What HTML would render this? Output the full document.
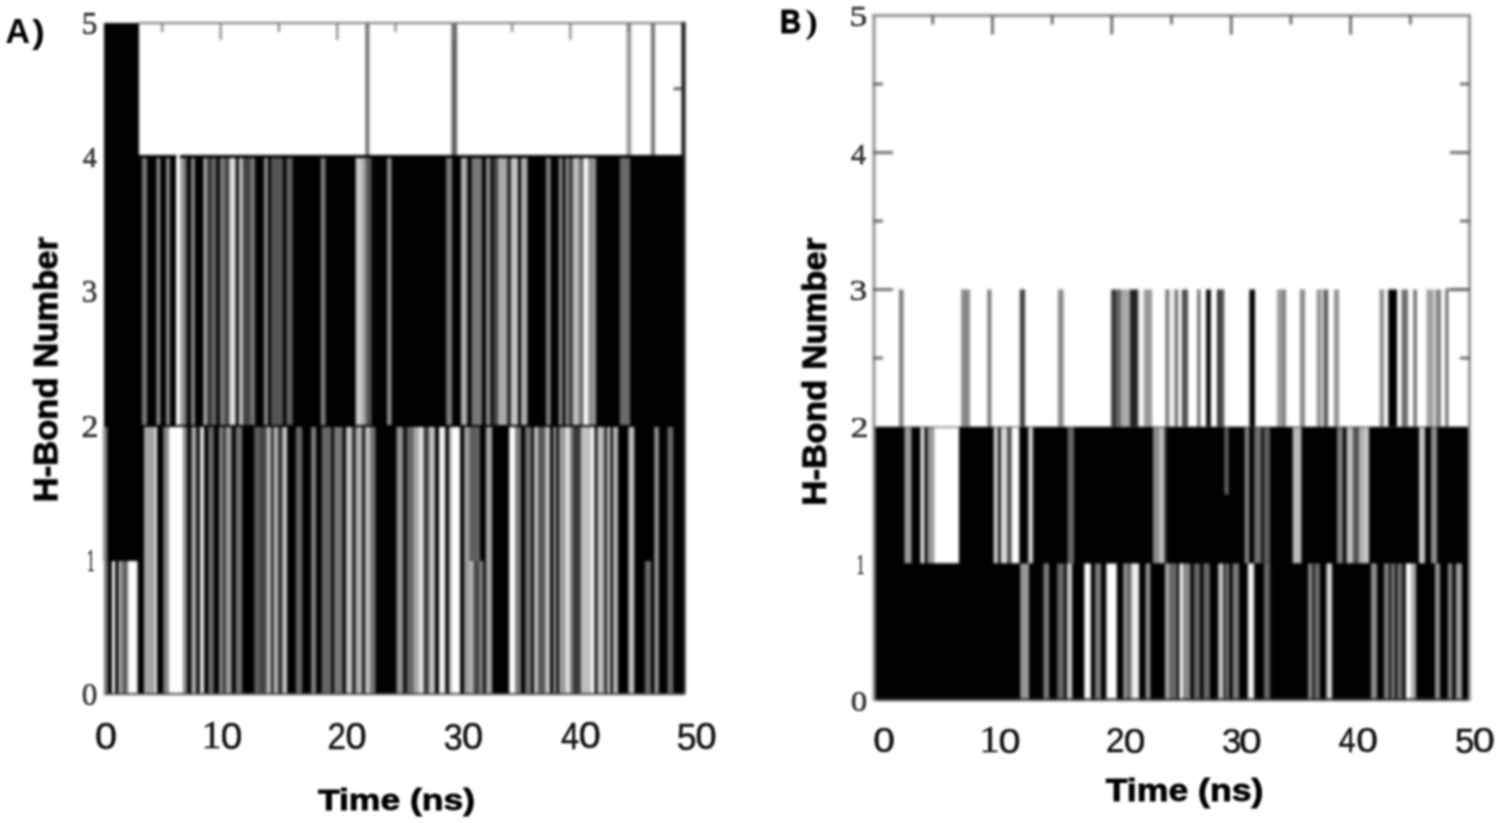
<!DOCTYPE html>
<html><head><meta charset="utf-8"><title>H-Bond Number</title>
<style>
html,body{margin:0;padding:0;background:#fff;}
body{width:1500px;height:823px;overflow:hidden;font-family:"Liberation Sans", sans-serif;}
svg{display:block;}
</style></head>
<body>
<svg width="1500" height="823" viewBox="0 0 1500 823">
<defs>
<filter id="bs" x="-2%" y="-2%" width="104%" height="104%" color-interpolation-filters="sRGB"><feGaussianBlur stdDeviation="1.40"/></filter>
<filter id="bt" x="-5%" y="-5%" width="110%" height="110%" color-interpolation-filters="sRGB"><feGaussianBlur stdDeviation="0.80"/></filter>
</defs>
<rect width="1500" height="823" fill="#fff"/>
<g filter="url(#bs)">
<rect x="104" y="23" width="35" height="538" fill="#000"/>
<rect x="139" y="155" width="546" height="539" fill="#000"/>
<rect x="104" y="561" width="35" height="133" fill="#000"/>
<rect x="104.00" y="158.0" width="38.00" height="267.0" fill="#000000"/>
<rect x="142.00" y="158.0" width="5.00" height="267.0" fill="#797979"/>
<rect x="147.00" y="158.0" width="9.50" height="267.0" fill="#000000"/>
<rect x="156.50" y="158.0" width="4.00" height="267.0" fill="#8e8e8e"/>
<rect x="160.50" y="158.0" width="5.50" height="267.0" fill="#000000"/>
<rect x="166.00" y="158.0" width="4.00" height="267.0" fill="#848484"/>
<rect x="170.00" y="158.0" width="6.00" height="267.0" fill="#000000"/>
<rect x="176.00" y="158.0" width="4.00" height="267.0" fill="#ffffff"/>
<rect x="180.00" y="158.0" width="4.00" height="267.0" fill="#9d9d9d"/>
<rect x="184.00" y="158.0" width="3.00" height="267.0" fill="#676767"/>
<rect x="187.00" y="158.0" width="4.00" height="267.0" fill="#000000"/>
<rect x="191.00" y="158.0" width="4.00" height="267.0" fill="#848484"/>
<rect x="195.00" y="158.0" width="8.50" height="267.0" fill="#000000"/>
<rect x="203.50" y="158.0" width="4.00" height="267.0" fill="#b2b2b2"/>
<rect x="207.50" y="158.0" width="0.50" height="267.0" fill="#000000"/>
<rect x="208.00" y="158.0" width="4.00" height="267.0" fill="#3a3a3a"/>
<rect x="212.00" y="158.0" width="4.60" height="267.0" fill="#676767"/>
<rect x="216.60" y="158.0" width="3.20" height="267.0" fill="#000000"/>
<rect x="219.80" y="158.0" width="5.60" height="267.0" fill="#7b7b7b"/>
<rect x="225.40" y="158.0" width="4.00" height="267.0" fill="#454545"/>
<rect x="229.40" y="158.0" width="6.40" height="267.0" fill="#e1e1e1"/>
<rect x="235.80" y="158.0" width="2.90" height="267.0" fill="#000000"/>
<rect x="238.70" y="158.0" width="4.30" height="267.0" fill="#bdbdbd"/>
<rect x="243.00" y="158.0" width="7.30" height="267.0" fill="#434343"/>
<rect x="250.30" y="158.0" width="4.70" height="267.0" fill="#787878"/>
<rect x="255.00" y="158.0" width="9.00" height="267.0" fill="#000000"/>
<rect x="264.00" y="158.0" width="4.00" height="267.0" fill="#8c8c8c"/>
<rect x="268.00" y="158.0" width="3.00" height="267.0" fill="#000000"/>
<rect x="271.00" y="158.0" width="12.00" height="267.0" fill="#555555"/>
<rect x="283.00" y="158.0" width="3.40" height="267.0" fill="#000000"/>
<rect x="286.40" y="158.0" width="6.40" height="267.0" fill="#626262"/>
<rect x="292.80" y="158.0" width="28.00" height="267.0" fill="#000000"/>
<rect x="320.80" y="158.0" width="4.90" height="267.0" fill="#818181"/>
<rect x="325.70" y="158.0" width="30.00" height="267.0" fill="#000000"/>
<rect x="355.70" y="158.0" width="6.30" height="267.0" fill="#cbcbcb"/>
<rect x="362.00" y="158.0" width="4.00" height="267.0" fill="#a3a3a3"/>
<rect x="366.00" y="158.0" width="5.70" height="267.0" fill="#555555"/>
<rect x="371.70" y="158.0" width="15.30" height="267.0" fill="#000000"/>
<rect x="387.00" y="158.0" width="4.70" height="267.0" fill="#8d8d8d"/>
<rect x="391.70" y="158.0" width="54.60" height="267.0" fill="#000000"/>
<rect x="446.30" y="158.0" width="5.90" height="267.0" fill="#7c7c7c"/>
<rect x="452.20" y="158.0" width="8.80" height="267.0" fill="#000000"/>
<rect x="461.00" y="158.0" width="6.50" height="267.0" fill="#aeaeae"/>
<rect x="467.50" y="158.0" width="4.00" height="267.0" fill="#000000"/>
<rect x="471.50" y="158.0" width="10.50" height="267.0" fill="#777777"/>
<rect x="482.00" y="158.0" width="4.00" height="267.0" fill="#000000"/>
<rect x="486.00" y="158.0" width="4.70" height="267.0" fill="#8d8d8d"/>
<rect x="490.70" y="158.0" width="2.30" height="267.0" fill="#000000"/>
<rect x="493.00" y="158.0" width="5.00" height="267.0" fill="#434343"/>
<rect x="498.00" y="158.0" width="9.50" height="267.0" fill="#aaaaaa"/>
<rect x="507.50" y="158.0" width="3.30" height="267.0" fill="#202020"/>
<rect x="510.80" y="158.0" width="7.20" height="267.0" fill="#c2c2c2"/>
<rect x="518.00" y="158.0" width="3.00" height="267.0" fill="#000000"/>
<rect x="521.00" y="158.0" width="6.60" height="267.0" fill="#adadad"/>
<rect x="527.60" y="158.0" width="18.40" height="267.0" fill="#000000"/>
<rect x="546.00" y="158.0" width="4.80" height="267.0" fill="#828282"/>
<rect x="550.80" y="158.0" width="8.10" height="267.0" fill="#000000"/>
<rect x="558.90" y="158.0" width="3.70" height="267.0" fill="#929292"/>
<rect x="562.60" y="158.0" width="2.60" height="267.0" fill="#000000"/>
<rect x="565.20" y="158.0" width="4.30" height="267.0" fill="#838383"/>
<rect x="569.50" y="158.0" width="3.50" height="267.0" fill="#414141"/>
<rect x="573.00" y="158.0" width="6.00" height="267.0" fill="#bebebe"/>
<rect x="579.00" y="158.0" width="4.40" height="267.0" fill="#696969"/>
<rect x="583.40" y="158.0" width="5.20" height="267.0" fill="#ffffff"/>
<rect x="588.60" y="158.0" width="7.80" height="267.0" fill="#909090"/>
<rect x="596.40" y="158.0" width="23.40" height="267.0" fill="#000000"/>
<rect x="619.80" y="158.0" width="10.40" height="267.0" fill="#6a6a6a"/>
<rect x="630.20" y="158.0" width="54.80" height="267.0" fill="#000000"/>
<rect x="176.5" y="154" width="3.5" height="5" fill="#fff"/>
<rect x="102.00" y="427.0" width="1.00" height="134.0" fill="#ffffff"/>
<rect x="103.00" y="427.0" width="4.50" height="134.0" fill="#898989"/>
<rect x="107.50" y="427.0" width="36.50" height="134.0" fill="#000000"/>
<rect x="144.00" y="427.0" width="10.50" height="134.0" fill="#a5a5a5"/>
<rect x="154.50" y="427.0" width="2.50" height="134.0" fill="#f9f9f9"/>
<rect x="157.00" y="427.0" width="6.40" height="134.0" fill="#000000"/>
<rect x="163.40" y="427.0" width="5.60" height="134.0" fill="#888888"/>
<rect x="169.00" y="427.0" width="14.40" height="134.0" fill="#ffffff"/>
<rect x="183.40" y="427.0" width="4.00" height="134.0" fill="#8a8a8a"/>
<rect x="187.40" y="427.0" width="4.00" height="134.0" fill="#000000"/>
<rect x="191.40" y="427.0" width="4.80" height="134.0" fill="#aeaeae"/>
<rect x="196.20" y="427.0" width="4.00" height="134.0" fill="#171717"/>
<rect x="200.20" y="427.0" width="4.00" height="134.0" fill="#efefef"/>
<rect x="204.20" y="427.0" width="4.10" height="134.0" fill="#000000"/>
<rect x="208.30" y="427.0" width="5.60" height="134.0" fill="#6b6b6b"/>
<rect x="213.90" y="427.0" width="5.10" height="134.0" fill="#000000"/>
<rect x="219.00" y="427.0" width="4.80" height="134.0" fill="#818181"/>
<rect x="223.80" y="427.0" width="1.60" height="134.0" fill="#090909"/>
<rect x="225.40" y="427.0" width="6.40" height="134.0" fill="#9c9c9c"/>
<rect x="231.80" y="427.0" width="4.00" height="134.0" fill="#000000"/>
<rect x="235.80" y="427.0" width="6.50" height="134.0" fill="#727272"/>
<rect x="242.30" y="427.0" width="12.00" height="134.0" fill="#000000"/>
<rect x="254.30" y="427.0" width="5.70" height="134.0" fill="#5c5c5c"/>
<rect x="260.00" y="427.0" width="6.30" height="134.0" fill="#424242"/>
<rect x="266.30" y="427.0" width="4.70" height="134.0" fill="#b7b7b7"/>
<rect x="271.00" y="427.0" width="2.50" height="134.0" fill="#1c1c1c"/>
<rect x="273.50" y="427.0" width="4.90" height="134.0" fill="#b6b6b6"/>
<rect x="278.40" y="427.0" width="4.00" height="134.0" fill="#2e2e2e"/>
<rect x="282.40" y="427.0" width="4.80" height="134.0" fill="#cbcbcb"/>
<rect x="287.20" y="427.0" width="8.80" height="134.0" fill="#000000"/>
<rect x="296.00" y="427.0" width="6.40" height="134.0" fill="#686868"/>
<rect x="302.40" y="427.0" width="8.80" height="134.0" fill="#000000"/>
<rect x="311.20" y="427.0" width="4.80" height="134.0" fill="#828282"/>
<rect x="316.00" y="427.0" width="5.70" height="134.0" fill="#000000"/>
<rect x="321.70" y="427.0" width="9.90" height="134.0" fill="#666666"/>
<rect x="331.60" y="427.0" width="2.40" height="134.0" fill="#000000"/>
<rect x="334.00" y="427.0" width="8.80" height="134.0" fill="#777777"/>
<rect x="342.80" y="427.0" width="3.20" height="134.0" fill="#000000"/>
<rect x="346.00" y="427.0" width="6.50" height="134.0" fill="#c4c4c4"/>
<rect x="352.50" y="427.0" width="3.20" height="134.0" fill="#1b1b1b"/>
<rect x="355.70" y="427.0" width="6.30" height="134.0" fill="#b4b4b4"/>
<rect x="362.00" y="427.0" width="3.30" height="134.0" fill="#1e1e1e"/>
<rect x="365.30" y="427.0" width="4.70" height="134.0" fill="#c7c7c7"/>
<rect x="370.00" y="427.0" width="5.70" height="134.0" fill="#717171"/>
<rect x="375.70" y="427.0" width="20.90" height="134.0" fill="#000000"/>
<rect x="396.60" y="427.0" width="6.40" height="134.0" fill="#939393"/>
<rect x="403.00" y="427.0" width="4.00" height="134.0" fill="#121212"/>
<rect x="407.00" y="427.0" width="6.40" height="134.0" fill="#666666"/>
<rect x="413.40" y="427.0" width="5.60" height="134.0" fill="#aaaaaa"/>
<rect x="419.00" y="427.0" width="4.80" height="134.0" fill="#e7e7e7"/>
<rect x="423.80" y="427.0" width="4.80" height="134.0" fill="#363636"/>
<rect x="428.60" y="427.0" width="6.40" height="134.0" fill="#bfbfbf"/>
<rect x="435.00" y="427.0" width="4.00" height="134.0" fill="#000000"/>
<rect x="439.00" y="427.0" width="6.50" height="134.0" fill="#f3f3f3"/>
<rect x="445.50" y="427.0" width="3.50" height="134.0" fill="#000000"/>
<rect x="449.00" y="427.0" width="2.40" height="134.0" fill="#c5c5c5"/>
<rect x="451.40" y="427.0" width="8.80" height="134.0" fill="#ffffff"/>
<rect x="460.20" y="427.0" width="4.00" height="134.0" fill="#000000"/>
<rect x="464.20" y="427.0" width="4.80" height="134.0" fill="#a2a2a2"/>
<rect x="469.00" y="427.0" width="2.50" height="134.0" fill="#717171"/>
<rect x="471.50" y="427.0" width="8.80" height="134.0" fill="#606060"/>
<rect x="480.30" y="427.0" width="5.60" height="134.0" fill="#000000"/>
<rect x="485.90" y="427.0" width="6.40" height="134.0" fill="#a4a4a4"/>
<rect x="492.30" y="427.0" width="16.90" height="134.0" fill="#000000"/>
<rect x="509.20" y="427.0" width="6.40" height="134.0" fill="#ffffff"/>
<rect x="515.60" y="427.0" width="5.60" height="134.0" fill="#777777"/>
<rect x="521.20" y="427.0" width="4.00" height="134.0" fill="#000000"/>
<rect x="525.20" y="427.0" width="6.40" height="134.0" fill="#737373"/>
<rect x="531.60" y="427.0" width="2.40" height="134.0" fill="#000000"/>
<rect x="534.00" y="427.0" width="4.00" height="134.0" fill="#c1c1c1"/>
<rect x="538.00" y="427.0" width="7.20" height="134.0" fill="#595959"/>
<rect x="545.20" y="427.0" width="4.80" height="134.0" fill="#c8c8c8"/>
<rect x="550.00" y="427.0" width="3.30" height="134.0" fill="#000000"/>
<rect x="553.30" y="427.0" width="3.20" height="134.0" fill="#9f9f9f"/>
<rect x="556.50" y="427.0" width="2.40" height="134.0" fill="#000000"/>
<rect x="558.90" y="427.0" width="6.30" height="134.0" fill="#9a9a9a"/>
<rect x="565.20" y="427.0" width="5.20" height="134.0" fill="#e2e2e2"/>
<rect x="570.40" y="427.0" width="2.60" height="134.0" fill="#858585"/>
<rect x="573.00" y="427.0" width="7.80" height="134.0" fill="#393939"/>
<rect x="580.80" y="427.0" width="9.50" height="134.0" fill="#c0c0c0"/>
<rect x="590.30" y="427.0" width="4.40" height="134.0" fill="#ffffff"/>
<rect x="594.70" y="427.0" width="2.60" height="134.0" fill="#000000"/>
<rect x="597.30" y="427.0" width="6.90" height="134.0" fill="#bdbdbd"/>
<rect x="604.20" y="427.0" width="3.50" height="134.0" fill="#313131"/>
<rect x="607.70" y="427.0" width="2.60" height="134.0" fill="#f8f8f8"/>
<rect x="610.30" y="427.0" width="2.60" height="134.0" fill="#000000"/>
<rect x="612.90" y="427.0" width="5.10" height="134.0" fill="#b6b6b6"/>
<rect x="618.00" y="427.0" width="10.50" height="134.0" fill="#000000"/>
<rect x="628.50" y="427.0" width="6.00" height="134.0" fill="#c1c1c1"/>
<rect x="634.50" y="427.0" width="16.50" height="134.0" fill="#000000"/>
<rect x="651.00" y="427.0" width="3.50" height="134.0" fill="#010101"/>
<rect x="654.50" y="427.0" width="4.30" height="134.0" fill="#9b9b9b"/>
<rect x="658.80" y="427.0" width="8.70" height="134.0" fill="#000000"/>
<rect x="667.50" y="427.0" width="6.00" height="134.0" fill="#696969"/>
<rect x="673.50" y="427.0" width="11.50" height="134.0" fill="#000000"/>
<rect x="103.00" y="561.0" width="1.00" height="133.0" fill="#ffffff"/>
<rect x="104.00" y="561.0" width="4.00" height="133.0" fill="#757575"/>
<rect x="108.00" y="561.0" width="4.00" height="133.0" fill="#000000"/>
<rect x="112.00" y="561.0" width="3.20" height="133.0" fill="#ffffff"/>
<rect x="115.20" y="561.0" width="3.20" height="133.0" fill="#000000"/>
<rect x="118.40" y="561.0" width="4.10" height="133.0" fill="#aaaaaa"/>
<rect x="122.50" y="561.0" width="5.50" height="133.0" fill="#646464"/>
<rect x="128.00" y="561.0" width="9.70" height="133.0" fill="#ffffff"/>
<rect x="137.70" y="561.0" width="6.30" height="133.0" fill="#000000"/>
<rect x="144.00" y="561.0" width="10.50" height="133.0" fill="#a5a5a5"/>
<rect x="154.50" y="561.0" width="2.50" height="133.0" fill="#f9f9f9"/>
<rect x="157.00" y="561.0" width="6.40" height="133.0" fill="#000000"/>
<rect x="163.40" y="561.0" width="5.60" height="133.0" fill="#888888"/>
<rect x="169.00" y="561.0" width="14.40" height="133.0" fill="#ffffff"/>
<rect x="183.40" y="561.0" width="4.00" height="133.0" fill="#8a8a8a"/>
<rect x="187.40" y="561.0" width="4.00" height="133.0" fill="#000000"/>
<rect x="191.40" y="561.0" width="4.80" height="133.0" fill="#aeaeae"/>
<rect x="196.20" y="561.0" width="4.00" height="133.0" fill="#171717"/>
<rect x="200.20" y="561.0" width="4.00" height="133.0" fill="#efefef"/>
<rect x="204.20" y="561.0" width="4.10" height="133.0" fill="#000000"/>
<rect x="208.30" y="561.0" width="5.60" height="133.0" fill="#6b6b6b"/>
<rect x="213.90" y="561.0" width="5.10" height="133.0" fill="#000000"/>
<rect x="219.00" y="561.0" width="4.80" height="133.0" fill="#818181"/>
<rect x="223.80" y="561.0" width="1.60" height="133.0" fill="#090909"/>
<rect x="225.40" y="561.0" width="6.40" height="133.0" fill="#9c9c9c"/>
<rect x="231.80" y="561.0" width="4.00" height="133.0" fill="#000000"/>
<rect x="235.80" y="561.0" width="6.50" height="133.0" fill="#727272"/>
<rect x="242.30" y="561.0" width="12.00" height="133.0" fill="#000000"/>
<rect x="254.30" y="561.0" width="5.70" height="133.0" fill="#5c5c5c"/>
<rect x="260.00" y="561.0" width="6.30" height="133.0" fill="#424242"/>
<rect x="266.30" y="561.0" width="4.70" height="133.0" fill="#b7b7b7"/>
<rect x="271.00" y="561.0" width="2.50" height="133.0" fill="#1c1c1c"/>
<rect x="273.50" y="561.0" width="4.90" height="133.0" fill="#b6b6b6"/>
<rect x="278.40" y="561.0" width="4.00" height="133.0" fill="#2e2e2e"/>
<rect x="282.40" y="561.0" width="4.80" height="133.0" fill="#cbcbcb"/>
<rect x="287.20" y="561.0" width="8.80" height="133.0" fill="#000000"/>
<rect x="296.00" y="561.0" width="6.40" height="133.0" fill="#686868"/>
<rect x="302.40" y="561.0" width="8.80" height="133.0" fill="#000000"/>
<rect x="311.20" y="561.0" width="4.80" height="133.0" fill="#828282"/>
<rect x="316.00" y="561.0" width="5.70" height="133.0" fill="#000000"/>
<rect x="321.70" y="561.0" width="9.90" height="133.0" fill="#666666"/>
<rect x="331.60" y="561.0" width="2.40" height="133.0" fill="#000000"/>
<rect x="334.00" y="561.0" width="8.80" height="133.0" fill="#777777"/>
<rect x="342.80" y="561.0" width="3.20" height="133.0" fill="#000000"/>
<rect x="346.00" y="561.0" width="6.50" height="133.0" fill="#c4c4c4"/>
<rect x="352.50" y="561.0" width="3.20" height="133.0" fill="#1b1b1b"/>
<rect x="355.70" y="561.0" width="6.30" height="133.0" fill="#b4b4b4"/>
<rect x="362.00" y="561.0" width="3.30" height="133.0" fill="#1e1e1e"/>
<rect x="365.30" y="561.0" width="4.70" height="133.0" fill="#c7c7c7"/>
<rect x="370.00" y="561.0" width="5.70" height="133.0" fill="#717171"/>
<rect x="375.70" y="561.0" width="20.90" height="133.0" fill="#000000"/>
<rect x="396.60" y="561.0" width="6.40" height="133.0" fill="#939393"/>
<rect x="403.00" y="561.0" width="4.00" height="133.0" fill="#121212"/>
<rect x="407.00" y="561.0" width="6.40" height="133.0" fill="#666666"/>
<rect x="413.40" y="561.0" width="5.60" height="133.0" fill="#aaaaaa"/>
<rect x="419.00" y="561.0" width="4.80" height="133.0" fill="#e7e7e7"/>
<rect x="423.80" y="561.0" width="4.80" height="133.0" fill="#363636"/>
<rect x="428.60" y="561.0" width="6.40" height="133.0" fill="#bfbfbf"/>
<rect x="435.00" y="561.0" width="4.00" height="133.0" fill="#000000"/>
<rect x="439.00" y="561.0" width="6.50" height="133.0" fill="#f3f3f3"/>
<rect x="445.50" y="561.0" width="3.50" height="133.0" fill="#000000"/>
<rect x="449.00" y="561.0" width="2.40" height="133.0" fill="#c5c5c5"/>
<rect x="451.40" y="561.0" width="8.80" height="133.0" fill="#ffffff"/>
<rect x="460.20" y="561.0" width="4.00" height="133.0" fill="#000000"/>
<rect x="464.20" y="561.0" width="3.30" height="133.0" fill="#a1a1a1"/>
<rect x="467.50" y="561.0" width="6.40" height="133.0" fill="#b1b1b1"/>
<rect x="473.90" y="561.0" width="4.80" height="133.0" fill="#434343"/>
<rect x="478.70" y="561.0" width="4.80" height="133.0" fill="#7f7f7f"/>
<rect x="483.50" y="561.0" width="2.40" height="133.0" fill="#000000"/>
<rect x="485.90" y="561.0" width="6.40" height="133.0" fill="#a4a4a4"/>
<rect x="492.30" y="561.0" width="16.90" height="133.0" fill="#000000"/>
<rect x="509.20" y="561.0" width="6.40" height="133.0" fill="#ffffff"/>
<rect x="515.60" y="561.0" width="5.60" height="133.0" fill="#777777"/>
<rect x="521.20" y="561.0" width="4.00" height="133.0" fill="#000000"/>
<rect x="525.20" y="561.0" width="6.40" height="133.0" fill="#737373"/>
<rect x="531.60" y="561.0" width="2.40" height="133.0" fill="#000000"/>
<rect x="534.00" y="561.0" width="4.00" height="133.0" fill="#c1c1c1"/>
<rect x="538.00" y="561.0" width="7.20" height="133.0" fill="#595959"/>
<rect x="545.20" y="561.0" width="4.80" height="133.0" fill="#c8c8c8"/>
<rect x="550.00" y="561.0" width="3.30" height="133.0" fill="#000000"/>
<rect x="553.30" y="561.0" width="3.20" height="133.0" fill="#9f9f9f"/>
<rect x="556.50" y="561.0" width="2.40" height="133.0" fill="#000000"/>
<rect x="558.90" y="561.0" width="6.30" height="133.0" fill="#9a9a9a"/>
<rect x="565.20" y="561.0" width="5.20" height="133.0" fill="#e2e2e2"/>
<rect x="570.40" y="561.0" width="2.60" height="133.0" fill="#858585"/>
<rect x="573.00" y="561.0" width="7.80" height="133.0" fill="#393939"/>
<rect x="580.80" y="561.0" width="9.50" height="133.0" fill="#c0c0c0"/>
<rect x="590.30" y="561.0" width="4.40" height="133.0" fill="#ffffff"/>
<rect x="594.70" y="561.0" width="2.60" height="133.0" fill="#000000"/>
<rect x="597.30" y="561.0" width="6.90" height="133.0" fill="#bdbdbd"/>
<rect x="604.20" y="561.0" width="3.50" height="133.0" fill="#313131"/>
<rect x="607.70" y="561.0" width="2.60" height="133.0" fill="#f8f8f8"/>
<rect x="610.30" y="561.0" width="2.60" height="133.0" fill="#000000"/>
<rect x="612.90" y="561.0" width="5.10" height="133.0" fill="#b6b6b6"/>
<rect x="618.00" y="561.0" width="10.50" height="133.0" fill="#000000"/>
<rect x="628.50" y="561.0" width="6.00" height="133.0" fill="#c1c1c1"/>
<rect x="634.50" y="561.0" width="10.50" height="133.0" fill="#000000"/>
<rect x="645.00" y="561.0" width="6.00" height="133.0" fill="#696969"/>
<rect x="651.00" y="561.0" width="3.50" height="133.0" fill="#000000"/>
<rect x="654.50" y="561.0" width="4.30" height="133.0" fill="#9b9b9b"/>
<rect x="658.80" y="561.0" width="8.70" height="133.0" fill="#000000"/>
<rect x="667.50" y="561.0" width="6.00" height="133.0" fill="#696969"/>
<rect x="673.50" y="561.0" width="11.50" height="133.0" fill="#000000"/>
<rect x="139.00" y="23.0" width="226.50" height="132.0" fill="#ffffff"/>
<rect x="365.50" y="23.0" width="4.00" height="132.0" fill="#696969"/>
<rect x="369.50" y="23.0" width="82.00" height="132.0" fill="#ffffff"/>
<rect x="451.50" y="23.0" width="5.50" height="132.0" fill="#5e5e5e"/>
<rect x="457.00" y="23.0" width="169.50" height="132.0" fill="#ffffff"/>
<rect x="626.50" y="23.0" width="5.00" height="132.0" fill="#989898"/>
<rect x="631.50" y="23.0" width="19.50" height="132.0" fill="#ffffff"/>
<rect x="651.00" y="23.0" width="4.00" height="132.0" fill="#727272"/>
<rect x="655.00" y="23.0" width="26.00" height="132.0" fill="#ffffff"/>
<rect x="139" y="22" width="546" height="2" fill="#777"/>
<rect x="681.5" y="22" width="4" height="672" fill="#111"/>
<rect x="104" y="693" width="581" height="2" fill="#444"/>
<rect x="161.3" y="23" width="2" height="9" fill="#777"/>
<rect x="219.6" y="23" width="2" height="17" fill="#777"/>
<rect x="277.9" y="23" width="2" height="9" fill="#777"/>
<rect x="336.2" y="23" width="2" height="17" fill="#777"/>
<rect x="394.5" y="23" width="2" height="9" fill="#777"/>
<rect x="452.8" y="23" width="2" height="17" fill="#777"/>
<rect x="511.1" y="23" width="2" height="9" fill="#777"/>
<rect x="569.4" y="23" width="2" height="17" fill="#777"/>
<rect x="627.7" y="23" width="2" height="9" fill="#777"/>
<rect x="673.5" y="87.5" width="8" height="2.5" fill="#444"/>
<rect x="873" y="426.5" width="597" height="274.0" fill="#000"/>
<rect x="876.00" y="289.5" width="23.00" height="137.0" fill="#ffffff"/>
<rect x="899.00" y="289.5" width="4.70" height="137.0" fill="#7c7c7c"/>
<rect x="903.70" y="289.5" width="57.50" height="137.0" fill="#ffffff"/>
<rect x="961.20" y="289.5" width="8.90" height="137.0" fill="#888888"/>
<rect x="970.10" y="289.5" width="17.30" height="137.0" fill="#ffffff"/>
<rect x="987.40" y="289.5" width="4.20" height="137.0" fill="#767676"/>
<rect x="991.60" y="289.5" width="28.20" height="137.0" fill="#ffffff"/>
<rect x="1019.80" y="289.5" width="5.50" height="137.0" fill="#414141"/>
<rect x="1025.30" y="289.5" width="32.60" height="137.0" fill="#ffffff"/>
<rect x="1057.90" y="289.5" width="5.90" height="137.0" fill="#8c8c8c"/>
<rect x="1063.80" y="289.5" width="47.40" height="137.0" fill="#ffffff"/>
<rect x="1111.20" y="289.5" width="4.80" height="137.0" fill="#353535"/>
<rect x="1116.00" y="289.5" width="5.50" height="137.0" fill="#656565"/>
<rect x="1121.50" y="289.5" width="8.50" height="137.0" fill="#aaaaaa"/>
<rect x="1130.00" y="289.5" width="8.40" height="137.0" fill="#222222"/>
<rect x="1138.40" y="289.5" width="5.60" height="137.0" fill="#f5f5f5"/>
<rect x="1144.00" y="289.5" width="8.40" height="137.0" fill="#999999"/>
<rect x="1152.40" y="289.5" width="13.10" height="137.0" fill="#ffffff"/>
<rect x="1165.50" y="289.5" width="3.70" height="137.0" fill="#6f6f6f"/>
<rect x="1169.20" y="289.5" width="5.60" height="137.0" fill="#eeeeee"/>
<rect x="1174.80" y="289.5" width="3.50" height="137.0" fill="#6a6a6a"/>
<rect x="1178.30" y="289.5" width="3.50" height="137.0" fill="#ffffff"/>
<rect x="1181.80" y="289.5" width="6.20" height="137.0" fill="#505050"/>
<rect x="1188.00" y="289.5" width="9.30" height="137.0" fill="#ffffff"/>
<rect x="1197.30" y="289.5" width="3.30" height="137.0" fill="#636363"/>
<rect x="1200.60" y="289.5" width="5.60" height="137.0" fill="#ffffff"/>
<rect x="1206.20" y="289.5" width="4.70" height="137.0" fill="#000000"/>
<rect x="1210.90" y="289.5" width="6.10" height="137.0" fill="#ffffff"/>
<rect x="1217.00" y="289.5" width="3.50" height="137.0" fill="#2a2a2a"/>
<rect x="1220.50" y="289.5" width="3.90" height="137.0" fill="#494949"/>
<rect x="1224.40" y="289.5" width="25.00" height="137.0" fill="#ffffff"/>
<rect x="1249.40" y="289.5" width="5.60" height="137.0" fill="#000000"/>
<rect x="1255.00" y="289.5" width="22.00" height="137.0" fill="#ffffff"/>
<rect x="1277.00" y="289.5" width="4.60" height="137.0" fill="#9c9c9c"/>
<rect x="1281.60" y="289.5" width="4.70" height="137.0" fill="#818181"/>
<rect x="1286.30" y="289.5" width="13.60" height="137.0" fill="#ffffff"/>
<rect x="1299.90" y="289.5" width="5.10" height="137.0" fill="#888888"/>
<rect x="1305.00" y="289.5" width="11.70" height="137.0" fill="#ffffff"/>
<rect x="1316.70" y="289.5" width="4.70" height="137.0" fill="#919191"/>
<rect x="1321.40" y="289.5" width="2.30" height="137.0" fill="#cfcfcf"/>
<rect x="1323.70" y="289.5" width="4.70" height="137.0" fill="#595959"/>
<rect x="1328.40" y="289.5" width="5.60" height="137.0" fill="#ffffff"/>
<rect x="1334.00" y="289.5" width="5.20" height="137.0" fill="#929292"/>
<rect x="1339.20" y="289.5" width="40.30" height="137.0" fill="#ffffff"/>
<rect x="1379.50" y="289.5" width="4.80" height="137.0" fill="#8f8f8f"/>
<rect x="1384.30" y="289.5" width="4.00" height="137.0" fill="#ffffff"/>
<rect x="1388.30" y="289.5" width="8.80" height="137.0" fill="#000000"/>
<rect x="1397.10" y="289.5" width="4.40" height="137.0" fill="#ffffff"/>
<rect x="1401.50" y="289.5" width="6.60" height="137.0" fill="#6d6d6d"/>
<rect x="1408.10" y="289.5" width="5.20" height="137.0" fill="#ffffff"/>
<rect x="1413.30" y="289.5" width="3.60" height="137.0" fill="#6b6b6b"/>
<rect x="1416.90" y="289.5" width="9.60" height="137.0" fill="#ffffff"/>
<rect x="1426.50" y="289.5" width="6.50" height="137.0" fill="#9e9e9e"/>
<rect x="1433.00" y="289.5" width="3.00" height="137.0" fill="#d3d3d3"/>
<rect x="1436.00" y="289.5" width="5.10" height="137.0" fill="#818181"/>
<rect x="1441.10" y="289.5" width="4.40" height="137.0" fill="#ffffff"/>
<rect x="1445.50" y="289.5" width="2.90" height="137.0" fill="#555555"/>
<rect x="1448.40" y="289.5" width="19.60" height="137.0" fill="#ffffff"/>
<rect x="873.00" y="427.5" width="31.50" height="136.0" fill="#000000"/>
<rect x="904.50" y="427.5" width="7.20" height="136.0" fill="#9b9b9b"/>
<rect x="911.70" y="427.5" width="8.80" height="136.0" fill="#000000"/>
<rect x="920.50" y="427.5" width="4.00" height="136.0" fill="#efefef"/>
<rect x="924.50" y="427.5" width="3.20" height="136.0" fill="#191919"/>
<rect x="927.70" y="427.5" width="6.50" height="136.0" fill="#999999"/>
<rect x="934.20" y="427.5" width="24.80" height="136.0" fill="#ffffff"/>
<rect x="959.00" y="427.5" width="34.80" height="136.0" fill="#000000"/>
<rect x="993.80" y="427.5" width="4.00" height="136.0" fill="#d9d9d9"/>
<rect x="997.80" y="427.5" width="3.20" height="136.0" fill="#282828"/>
<rect x="1001.00" y="427.5" width="6.50" height="136.0" fill="#dbdbdb"/>
<rect x="1007.50" y="427.5" width="4.00" height="136.0" fill="#4e4e4e"/>
<rect x="1011.50" y="427.5" width="8.00" height="136.0" fill="#ffffff"/>
<rect x="1019.50" y="427.5" width="8.80" height="136.0" fill="#000000"/>
<rect x="1028.30" y="427.5" width="4.80" height="136.0" fill="#d2d2d2"/>
<rect x="1033.10" y="427.5" width="34.50" height="136.0" fill="#000000"/>
<rect x="1067.60" y="427.5" width="6.40" height="136.0" fill="#686868"/>
<rect x="1074.00" y="427.5" width="79.00" height="136.0" fill="#000000"/>
<rect x="1153.00" y="427.5" width="5.50" height="136.0" fill="#8a8a8a"/>
<rect x="1158.50" y="427.5" width="5.50" height="136.0" fill="#bfbfbf"/>
<rect x="1164.00" y="427.5" width="2.60" height="136.0" fill="#4f4f4f"/>
<rect x="1166.60" y="427.5" width="78.10" height="136.0" fill="#000000"/>
<rect x="1244.70" y="427.5" width="4.80" height="136.0" fill="#828282"/>
<rect x="1249.50" y="427.5" width="4.80" height="136.0" fill="#000000"/>
<rect x="1254.30" y="427.5" width="7.20" height="136.0" fill="#717171"/>
<rect x="1261.50" y="427.5" width="2.50" height="136.0" fill="#141414"/>
<rect x="1264.00" y="427.5" width="6.30" height="136.0" fill="#5c5c5c"/>
<rect x="1270.30" y="427.5" width="22.50" height="136.0" fill="#000000"/>
<rect x="1292.80" y="427.5" width="8.80" height="136.0" fill="#bbbbbb"/>
<rect x="1301.60" y="427.5" width="35.40" height="136.0" fill="#000000"/>
<rect x="1337.00" y="427.5" width="6.00" height="136.0" fill="#7b7b7b"/>
<rect x="1343.00" y="427.5" width="3.50" height="136.0" fill="#000000"/>
<rect x="1346.50" y="427.5" width="6.50" height="136.0" fill="#bebebe"/>
<rect x="1353.00" y="427.5" width="6.00" height="136.0" fill="#525252"/>
<rect x="1359.00" y="427.5" width="5.00" height="136.0" fill="#b3b3b3"/>
<rect x="1364.00" y="427.5" width="5.00" height="136.0" fill="#c8c8c8"/>
<rect x="1369.00" y="427.5" width="50.00" height="136.0" fill="#000000"/>
<rect x="1419.00" y="427.5" width="6.00" height="136.0" fill="#c6c6c6"/>
<rect x="1425.00" y="427.5" width="6.00" height="136.0" fill="#000000"/>
<rect x="1431.00" y="427.5" width="6.00" height="136.0" fill="#8d8d8d"/>
<rect x="1437.00" y="427.5" width="31.00" height="136.0" fill="#000000"/>
<rect x="873.00" y="563.5" width="147.30" height="137.0" fill="#000000"/>
<rect x="1020.30" y="563.5" width="8.80" height="137.0" fill="#999999"/>
<rect x="1029.10" y="563.5" width="14.40" height="137.0" fill="#000000"/>
<rect x="1043.50" y="563.5" width="5.70" height="137.0" fill="#7c7c7c"/>
<rect x="1049.20" y="563.5" width="8.00" height="137.0" fill="#000000"/>
<rect x="1057.20" y="563.5" width="7.20" height="137.0" fill="#676767"/>
<rect x="1064.40" y="563.5" width="2.40" height="137.0" fill="#000000"/>
<rect x="1066.80" y="563.5" width="5.60" height="137.0" fill="#c9c9c9"/>
<rect x="1072.40" y="563.5" width="12.00" height="137.0" fill="#000000"/>
<rect x="1084.40" y="563.5" width="6.50" height="137.0" fill="#ffffff"/>
<rect x="1090.90" y="563.5" width="4.00" height="137.0" fill="#000000"/>
<rect x="1094.90" y="563.5" width="6.40" height="137.0" fill="#7a7a7a"/>
<rect x="1101.30" y="563.5" width="5.10" height="137.0" fill="#000000"/>
<rect x="1106.40" y="563.5" width="10.40" height="137.0" fill="#ffffff"/>
<rect x="1116.80" y="563.5" width="6.50" height="137.0" fill="#000000"/>
<rect x="1123.30" y="563.5" width="4.00" height="137.0" fill="#979797"/>
<rect x="1127.30" y="563.5" width="4.00" height="137.0" fill="#696969"/>
<rect x="1131.30" y="563.5" width="8.00" height="137.0" fill="#efefef"/>
<rect x="1139.30" y="563.5" width="6.40" height="137.0" fill="#000000"/>
<rect x="1145.70" y="563.5" width="4.80" height="137.0" fill="#959595"/>
<rect x="1150.50" y="563.5" width="14.50" height="137.0" fill="#000000"/>
<rect x="1165.00" y="563.5" width="4.80" height="137.0" fill="#a3a3a3"/>
<rect x="1169.80" y="563.5" width="7.20" height="137.0" fill="#666666"/>
<rect x="1177.00" y="563.5" width="2.40" height="137.0" fill="#000000"/>
<rect x="1179.40" y="563.5" width="4.00" height="137.0" fill="#f9f9f9"/>
<rect x="1183.40" y="563.5" width="7.20" height="137.0" fill="#888888"/>
<rect x="1190.60" y="563.5" width="3.20" height="137.0" fill="#000000"/>
<rect x="1193.80" y="563.5" width="6.40" height="137.0" fill="#686868"/>
<rect x="1200.20" y="563.5" width="3.20" height="137.0" fill="#000000"/>
<rect x="1203.40" y="563.5" width="6.50" height="137.0" fill="#686868"/>
<rect x="1209.90" y="563.5" width="8.30" height="137.0" fill="#000000"/>
<rect x="1218.20" y="563.5" width="5.60" height="137.0" fill="#c4c4c4"/>
<rect x="1223.80" y="563.5" width="1.60" height="137.0" fill="#000000"/>
<rect x="1225.40" y="563.5" width="4.00" height="137.0" fill="#777777"/>
<rect x="1229.40" y="563.5" width="3.20" height="137.0" fill="#000000"/>
<rect x="1232.60" y="563.5" width="6.40" height="137.0" fill="#7a7a7a"/>
<rect x="1239.00" y="563.5" width="8.90" height="137.0" fill="#000000"/>
<rect x="1247.90" y="563.5" width="6.40" height="137.0" fill="#f5f5f5"/>
<rect x="1254.30" y="563.5" width="9.70" height="137.0" fill="#000000"/>
<rect x="1264.00" y="563.5" width="6.30" height="137.0" fill="#696969"/>
<rect x="1270.30" y="563.5" width="37.70" height="137.0" fill="#000000"/>
<rect x="1308.00" y="563.5" width="4.80" height="137.0" fill="#828282"/>
<rect x="1312.80" y="563.5" width="1.60" height="137.0" fill="#000000"/>
<rect x="1314.40" y="563.5" width="5.60" height="137.0" fill="#6b6b6b"/>
<rect x="1320.00" y="563.5" width="6.50" height="137.0" fill="#000000"/>
<rect x="1326.50" y="563.5" width="5.50" height="137.0" fill="#d7d7d7"/>
<rect x="1332.00" y="563.5" width="39.00" height="137.0" fill="#000000"/>
<rect x="1371.00" y="563.5" width="6.00" height="137.0" fill="#8d8d8d"/>
<rect x="1377.00" y="563.5" width="7.00" height="137.0" fill="#000000"/>
<rect x="1384.00" y="563.5" width="5.00" height="137.0" fill="#808080"/>
<rect x="1389.00" y="563.5" width="2.00" height="137.0" fill="#000000"/>
<rect x="1391.00" y="563.5" width="4.00" height="137.0" fill="#787878"/>
<rect x="1395.00" y="563.5" width="2.00" height="137.0" fill="#000000"/>
<rect x="1397.00" y="563.5" width="5.00" height="137.0" fill="#6d6d6d"/>
<rect x="1402.00" y="563.5" width="4.00" height="137.0" fill="#1b1b1b"/>
<rect x="1406.00" y="563.5" width="5.00" height="137.0" fill="#ffffff"/>
<rect x="1411.00" y="563.5" width="5.00" height="137.0" fill="#adadad"/>
<rect x="1416.00" y="563.5" width="19.00" height="137.0" fill="#000000"/>
<rect x="1435.00" y="563.5" width="5.00" height="137.0" fill="#939393"/>
<rect x="1440.00" y="563.5" width="8.00" height="137.0" fill="#000000"/>
<rect x="1448.00" y="563.5" width="4.00" height="137.0" fill="#8b8b8b"/>
<rect x="1452.00" y="563.5" width="4.00" height="137.0" fill="#0d0d0d"/>
<rect x="1456.00" y="563.5" width="6.00" height="137.0" fill="#9e9e9e"/>
<rect x="1462.00" y="563.5" width="6.00" height="137.0" fill="#000000"/>
<rect x="873" y="698.3" width="597" height="2.3" fill="#333"/>
<rect x="1224.5" y="427.5" width="4" height="67" fill="#666"/>
<rect x="1445.5" y="288.3" width="25" height="2.5" fill="#777"/>
<rect x="872" y="14.0" width="599" height="3" fill="#8f8f8f"/>
<rect x="872.5" y="14.0" width="3" height="687.0" fill="#8f8f8f"/>
<rect x="1468" y="14.0" width="3" height="687.0" fill="#8f8f8f"/>
<rect x="931.5" y="15.5" width="2.5" height="9" fill="#555"/>
<rect x="991.2" y="15.5" width="2.5" height="19" fill="#555"/>
<rect x="1050.9" y="15.5" width="2.5" height="9" fill="#555"/>
<rect x="1110.6" y="15.5" width="2.5" height="19" fill="#555"/>
<rect x="1170.3" y="15.5" width="2.5" height="9" fill="#555"/>
<rect x="1230.0" y="15.5" width="2.5" height="19" fill="#555"/>
<rect x="1289.7" y="15.5" width="2.5" height="9" fill="#555"/>
<rect x="1349.4" y="15.5" width="2.5" height="19" fill="#555"/>
<rect x="1409.1" y="15.5" width="2.5" height="9" fill="#555"/>
<rect x="873" y="82.8" width="10" height="2.5" fill="#555"/>
<rect x="1460" y="82.8" width="10" height="2.5" fill="#555"/>
<rect x="873" y="151.3" width="20" height="2.5" fill="#555"/>
<rect x="1450" y="151.3" width="20" height="2.5" fill="#555"/>
<rect x="873" y="219.8" width="10" height="2.5" fill="#555"/>
<rect x="1460" y="219.8" width="10" height="2.5" fill="#555"/>
<rect x="873" y="288.3" width="20" height="2.5" fill="#555"/>
<rect x="1450" y="288.3" width="20" height="2.5" fill="#555"/>
<rect x="873" y="356.8" width="10" height="2.5" fill="#555"/>
<rect x="1460" y="356.8" width="10" height="2.5" fill="#555"/>
</g>
<g filter="url(#bt)">
<g transform="matrix(1.0010,0,0,1.0468,17.74,30.48)"><text x="0" y="0" font-family='"Liberation Sans", sans-serif' font-size="34.0" font-weight="bold" fill="#000" text-anchor="middle" dominant-baseline="central">A</text></g>
<g transform="matrix(1.1111,0,0,1.0015,38.56,31.22)"><text x="0" y="0" font-family='"Liberation Sans", sans-serif' font-size="34.0" font-weight="bold" fill="#000" text-anchor="middle" dominant-baseline="central">)</text></g>
<g transform="matrix(0.8579,0,0,0.9852,790.52,21.49)"><text x="0" y="0" font-family='"Liberation Sans", sans-serif' font-size="34.0" font-weight="bold" fill="#000" text-anchor="middle" dominant-baseline="central" stroke="#000" stroke-width="1.00">B</text></g>
<g transform="matrix(1.1111,0,0,1.0021,811.53,21.43)"><text x="0" y="0" font-family='"Liberation Serif", serif' font-size="34.0" font-weight="bold" fill="#000" text-anchor="middle" dominant-baseline="central">)</text></g>
<g transform="matrix(1.0769,0,0,1.1094,89.46,23.68)"><text x="0" y="0" font-family='"Liberation Serif", serif' font-size="29.0" font-weight="normal" fill="#333" text-anchor="middle" dominant-baseline="central" stroke="#333" stroke-width="0.60">5</text></g>
<g transform="matrix(0.9767,0,0,1.0000,89.75,156.50)"><text x="0" y="0" font-family='"Liberation Serif", serif' font-size="29.0" font-weight="normal" fill="#333" text-anchor="middle" dominant-baseline="central" stroke="#333" stroke-width="0.60">4</text></g>
<g transform="matrix(1.0769,0,0,1.1094,89.46,291.21)"><text x="0" y="0" font-family='"Liberation Serif", serif' font-size="29.0" font-weight="normal" fill="#333" text-anchor="middle" dominant-baseline="central" stroke="#333" stroke-width="0.60">3</text></g>
<g transform="matrix(1.1667,0,0,1.1094,90.00,426.71)"><text x="0" y="0" font-family='"Liberation Serif", serif' font-size="29.0" font-weight="normal" fill="#333" text-anchor="middle" dominant-baseline="central" stroke="#333" stroke-width="0.60">2</text></g>
<g transform="matrix(0.5546,0,0,1.1094,90.81,560.63)"><text x="0" y="0" font-family='"Liberation Serif", serif' font-size="29.0" font-weight="normal" fill="#333" text-anchor="middle" dominant-baseline="central" stroke="#333" stroke-width="0.60">1</text></g>
<g transform="matrix(1.0769,0,0,1.1094,89.46,694.68)"><text x="0" y="0" font-family='"Liberation Serif", serif' font-size="29.0" font-weight="normal" fill="#333" text-anchor="middle" dominant-baseline="central" stroke="#333" stroke-width="0.60">0</text></g>
<g transform="matrix(1.2221,0,0,1.0050,858.39,15.95)"><text x="0" y="0" font-family='"Liberation Serif", serif' font-size="29.0" font-weight="normal" fill="#333" text-anchor="middle" dominant-baseline="central" stroke="#333" stroke-width="0.60">5</text></g>
<g transform="matrix(1.0591,0,0,1.0050,858.50,153.90)"><text x="0" y="0" font-family='"Liberation Serif", serif' font-size="29.0" font-weight="normal" fill="#333" text-anchor="middle" dominant-baseline="central" stroke="#333" stroke-width="0.60">4</text></g>
<g transform="matrix(1.2166,0,0,1.0050,858.39,289.95)"><text x="0" y="0" font-family='"Liberation Serif", serif' font-size="29.0" font-weight="normal" fill="#333" text-anchor="middle" dominant-baseline="central" stroke="#333" stroke-width="0.60">3</text></g>
<g transform="matrix(1.2356,0,0,1.0050,859.48,426.95)"><text x="0" y="0" font-family='"Liberation Serif", serif' font-size="29.0" font-weight="normal" fill="#333" text-anchor="middle" dominant-baseline="central" stroke="#333" stroke-width="0.60">2</text></g>
<g transform="matrix(0.5520,0,0,1.0050,860.55,563.95)"><text x="0" y="0" font-family='"Liberation Serif", serif' font-size="29.0" font-weight="normal" fill="#333" text-anchor="middle" dominant-baseline="central" stroke="#333" stroke-width="0.60">1</text></g>
<g transform="matrix(1.1406,0,0,1.0050,858.90,700.95)"><text x="0" y="0" font-family='"Liberation Serif", serif' font-size="29.0" font-weight="normal" fill="#333" text-anchor="middle" dominant-baseline="central" stroke="#333" stroke-width="0.60">0</text></g>
<g transform="matrix(1.1012,0,0,1.0115,105.98,736.94)"><text x="0" y="0" font-family='"Liberation Sans", sans-serif' font-size="36.0" font-weight="normal" fill="#111" text-anchor="middle" dominant-baseline="central" stroke="#111" stroke-width="0.50">0</text></g>
<g transform="matrix(1.1145,0,0,1.0924,211.44,735.01)"><text x="0" y="0" font-family='"Liberation Serif", serif' font-size="36.0" font-weight="normal" fill="#111" text-anchor="middle" dominant-baseline="central" stroke="#111" stroke-width="0.50">1</text></g>
<g transform="matrix(1.0788,0,0,1.0115,231.47,735.95)"><text x="0" y="0" font-family='"Liberation Sans", sans-serif' font-size="36.0" font-weight="normal" fill="#111" text-anchor="middle" dominant-baseline="central" stroke="#111" stroke-width="0.50">0</text></g>
<g transform="matrix(0.9179,0,0,1.0115,336.77,735.95)"><text x="0" y="0" font-family='"Liberation Sans", sans-serif' font-size="36.0" font-weight="normal" fill="#111" text-anchor="middle" dominant-baseline="central" stroke="#111" stroke-width="0.50">2</text></g>
<g transform="matrix(1.0556,0,0,1.0115,355.97,736.02)"><text x="0" y="0" font-family='"Liberation Sans", sans-serif' font-size="36.0" font-weight="normal" fill="#111" text-anchor="middle" dominant-baseline="central" stroke="#111" stroke-width="0.50">0</text></g>
<g transform="matrix(0.9462,0,0,1.0115,453.21,736.90)"><text x="0" y="0" font-family='"Liberation Sans", sans-serif' font-size="36.0" font-weight="normal" fill="#111" text-anchor="middle" dominant-baseline="central" stroke="#111" stroke-width="0.50">3</text></g>
<g transform="matrix(1.0556,0,0,1.0115,472.50,736.02)"><text x="0" y="0" font-family='"Liberation Sans", sans-serif' font-size="36.0" font-weight="normal" fill="#111" text-anchor="middle" dominant-baseline="central" stroke="#111" stroke-width="0.50">0</text></g>
<g transform="matrix(0.9060,0,0,1.0115,569.97,735.95)"><text x="0" y="0" font-family='"Liberation Sans", sans-serif' font-size="36.0" font-weight="normal" fill="#111" text-anchor="middle" dominant-baseline="central" stroke="#111" stroke-width="0.50">4</text></g>
<g transform="matrix(1.1010,0,0,1.0115,589.74,735.95)"><text x="0" y="0" font-family='"Liberation Sans", sans-serif' font-size="36.0" font-weight="normal" fill="#111" text-anchor="middle" dominant-baseline="central" stroke="#111" stroke-width="0.50">0</text></g>
<g transform="matrix(0.9900,0,0,1.0115,686.74,736.97)"><text x="0" y="0" font-family='"Liberation Sans", sans-serif' font-size="36.0" font-weight="normal" fill="#111" text-anchor="middle" dominant-baseline="central" stroke="#111" stroke-width="0.50">5</text></g>
<g transform="matrix(1.0556,0,0,1.0115,706.01,736.02)"><text x="0" y="0" font-family='"Liberation Sans", sans-serif' font-size="36.0" font-weight="normal" fill="#111" text-anchor="middle" dominant-baseline="central" stroke="#111" stroke-width="0.50">0</text></g>
<g transform="matrix(1.0815,0,0,0.9867,883.97,739.45)"><text x="0" y="0" font-family='"Liberation Sans", sans-serif' font-size="36.0" font-weight="normal" fill="#111" text-anchor="middle" dominant-baseline="central" stroke="#111" stroke-width="0.50">0</text></g>
<g transform="matrix(1.1406,0,0,1.0673,989.42,739.49)"><text x="0" y="0" font-family='"Liberation Serif", serif' font-size="36.0" font-weight="normal" fill="#111" text-anchor="middle" dominant-baseline="central" stroke="#111" stroke-width="0.50">1</text></g>
<g transform="matrix(1.1012,0,0,0.9867,1009.42,740.49)"><text x="0" y="0" font-family='"Liberation Sans", sans-serif' font-size="36.0" font-weight="normal" fill="#111" text-anchor="middle" dominant-baseline="central" stroke="#111" stroke-width="0.50">0</text></g>
<g transform="matrix(0.9247,0,0,0.9867,1115.28,739.51)"><text x="0" y="0" font-family='"Liberation Sans", sans-serif' font-size="36.0" font-weight="normal" fill="#111" text-anchor="middle" dominant-baseline="central" stroke="#111" stroke-width="0.50">2</text></g>
<g transform="matrix(1.0788,0,0,0.9867,1134.47,740.43)"><text x="0" y="0" font-family='"Liberation Sans", sans-serif' font-size="36.0" font-weight="normal" fill="#111" text-anchor="middle" dominant-baseline="central" stroke="#111" stroke-width="0.50">0</text></g>
<g transform="matrix(0.9669,0,0,0.9867,1231.73,740.49)"><text x="0" y="0" font-family='"Liberation Sans", sans-serif' font-size="36.0" font-weight="normal" fill="#111" text-anchor="middle" dominant-baseline="central" stroke="#111" stroke-width="0.50">3</text></g>
<g transform="matrix(1.1356,0,0,0.9867,1250.45,740.43)"><text x="0" y="0" font-family='"Liberation Sans", sans-serif' font-size="36.0" font-weight="normal" fill="#111" text-anchor="middle" dominant-baseline="central" stroke="#111" stroke-width="0.50">0</text></g>
<g transform="matrix(0.8437,0,0,0.9867,1347.28,739.45)"><text x="0" y="0" font-family='"Liberation Sans", sans-serif' font-size="36.0" font-weight="normal" fill="#111" text-anchor="middle" dominant-baseline="central" stroke="#111" stroke-width="0.50">4</text></g>
<g transform="matrix(1.0815,0,0,0.9867,1367.03,739.45)"><text x="0" y="0" font-family='"Liberation Sans", sans-serif' font-size="36.0" font-weight="normal" fill="#111" text-anchor="middle" dominant-baseline="central" stroke="#111" stroke-width="0.50">0</text></g>
<g transform="matrix(0.9669,0,0,0.9867,1464.76,740.43)"><text x="0" y="0" font-family='"Liberation Sans", sans-serif' font-size="36.0" font-weight="normal" fill="#111" text-anchor="middle" dominant-baseline="central" stroke="#111" stroke-width="0.50">5</text></g>
<g transform="matrix(1.1010,0,0,0.9867,1483.74,739.45)"><text x="0" y="0" font-family='"Liberation Sans", sans-serif' font-size="36.0" font-weight="normal" fill="#111" text-anchor="middle" dominant-baseline="central" stroke="#111" stroke-width="0.50">0</text></g>
<g transform="matrix(1.0143,0,0,0.8694,396.50,799.42)"><text x="0" y="0" font-family='"Liberation Sans", sans-serif' font-size="35.0" font-weight="bold" fill="#000" text-anchor="middle" dominant-baseline="central" stroke="#000" stroke-width="0.90">Time (ns)</text></g>
<g transform="matrix(1.0169,0,0,0.8805,1184.51,790.56)"><text x="0" y="0" font-family='"Liberation Sans", sans-serif' font-size="35.0" font-weight="bold" fill="#000" text-anchor="middle" dominant-baseline="central" stroke="#000" stroke-width="0.90">Time (ns)</text></g>
<g transform="matrix(0.9293,0,0,0.9895,45.69,369.74)"><g transform="rotate(-90)"><text x="0" y="0" font-family='"Liberation Sans", sans-serif' font-size="35.0" font-weight="bold" fill="#000" text-anchor="middle" dominant-baseline="central" stroke="#000" stroke-width="1.00">H-Bond Number</text></g></g>
<g transform="matrix(0.9293,0,0,1.0000,814.26,371.75)"><g transform="rotate(-90)"><text x="0" y="0" font-family='"Liberation Sans", sans-serif' font-size="35.0" font-weight="bold" fill="#000" text-anchor="middle" dominant-baseline="central" stroke="#000" stroke-width="1.00">H-Bond Number</text></g></g>
</g>
</svg>
</body></html>
